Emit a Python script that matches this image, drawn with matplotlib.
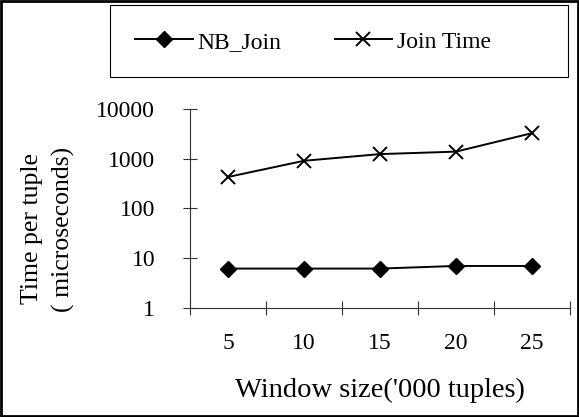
import matplotlib
matplotlib.use("Agg")
import matplotlib.pyplot as plt
from matplotlib.patches import Rectangle

categories = ["5", "10", "15", "20", "25"]
nb_join = [6.2, 6.2, 6.2, 7.0, 7.0]
join_time = [430, 910, 1240, 1390, 3270]
y_ticks = [1, 10, 100, 1000, 10000]
y_tick_labels = ["1", "10", "100", "1000", "10000"]

plt.rcParams['font.family'] = ['Liberation Serif', 'DejaVu Serif']

W, H = 579, 417
fig = plt.figure(figsize=(W / 100, H / 100), dpi=100)
fig.patch.set_facecolor("white")

def fx(px):
    return px / W

def fy(py):
    return 1 - py / H

ax = fig.add_axes([fx(190), fy(308), fx(570) - fx(190), fy(109) - fy(308)])
x = list(range(1, len(categories) + 1))
ax.plot(x, nb_join, color="black", lw=1.4, marker="D", markersize=7.8,
        markerfacecolor="black", markeredgecolor="black", label="NB_Join")
ax.plot(x, join_time, color="black", lw=1.4, marker="x", markersize=9.5,
        markeredgewidth=1.4, label="Join Time")

ax.set_yscale("log")
ax.set_ylim(1, 10000)
ax.set_yticks(y_ticks)
ax.set_yticklabels(y_tick_labels)
ax.yaxis.set_minor_locator(matplotlib.ticker.NullLocator())
ax.set_xlim(0.5, len(categories) + 0.5)
ax.set_xticks(x)
ax.set_xticklabels(categories)
ax.set_xticks([i + 0.5 for i in range(0, len(categories) + 1)], minor=True)
ax.tick_params(axis="x", which="major", length=0, pad=18, labelsize=17)
ax.tick_params(axis="x", which="minor", direction="inout", length=10, width=0.8, color="#333333")
ax.tick_params(axis="y", which="major", direction="inout", length=10, width=0.8,
               color="#333333", pad=20, labelsize=17)
for s in ["top", "right"]:
    ax.spines[s].set_visible(False)
for s in ["left", "bottom"]:
    ax.spines[s].set_color("#333333")
    ax.spines[s].set_linewidth(0.8)
ax.set_facecolor("none")

fig.text(fx(380), fy(390), "Window size('000 tuples)", ha="center", va="center", fontsize=20.5)
fig.text(fx(48), fy(229), "Time per tuple\n( microseconds)", ha="center", va="center",
         rotation=90, fontsize=18.5, linespacing=1.45)

# legend frame
fig.patches.append(Rectangle((fx(110), fy(77)), fx(568) - fx(110), fy(5) - fy(77),
                             transform=fig.transFigure, fill=False, edgecolor="black", lw=0.8))
handles, labels = ax.get_legend_handles_labels()
fig.legend(handles, labels, loc="center", bbox_to_anchor=(fx(313), fy(42)), ncol=2,
           frameon=False, fontsize=17, handlelength=2.45, handletextpad=0.2,
           columnspacing=2.25)

# outer border
fig.patches.append(Rectangle((fx(1), fy(416)), fx(577), fy(1) - fy(416),
                             transform=fig.transFigure, fill=False, edgecolor="black", lw=2))

fig.savefig("out.png", dpi=100)
